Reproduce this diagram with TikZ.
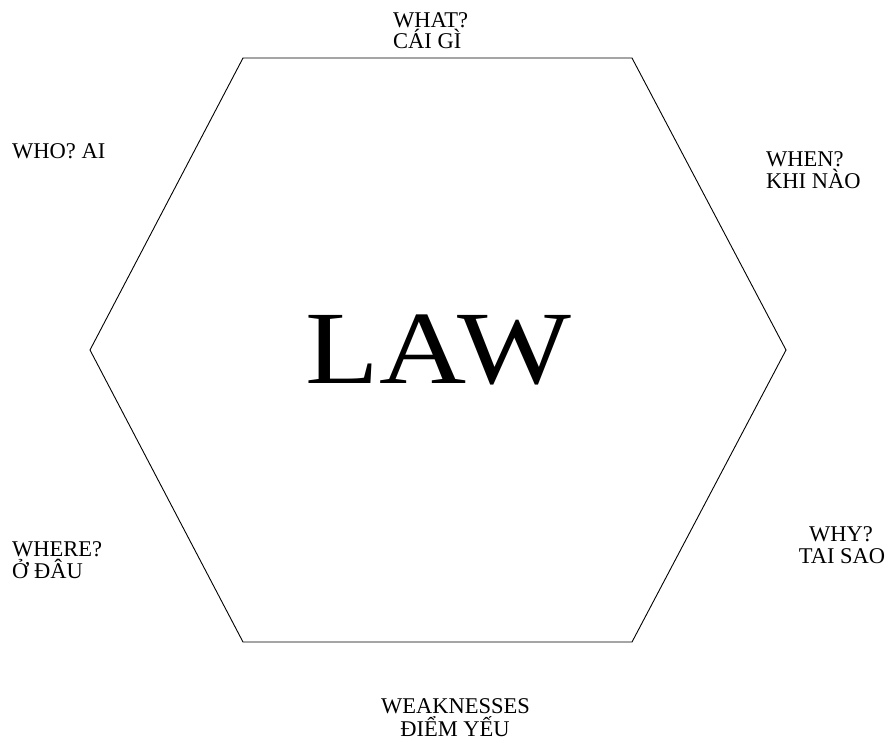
\documentclass[tikz,border=0pt]{standalone}
\usepackage{fontspec}
\setmainfont{Liberation Serif}
\begin{document}
\begin{tikzpicture}[x=1pt,y=-1pt,
  lbl/.style={inner sep=0pt, font=\fontsize{22.5}{22.5}\selectfont},
  hexline/.style={line width=0.9pt, black}]
\useasboundingbox[fill=white] (0,0) rectangle (890,742);
\coordinate (p1) at (243,58);
\coordinate (p2) at (632,58);
\coordinate (p3) at (786,350);
\coordinate (p4) at (632,642);
\coordinate (p5) at (243,642);
\coordinate (p6) at (90,350);
\draw[hexline, line join=miter] (p1) -- (p2) -- (p3) -- (p4) -- (p5) -- (p6) -- cycle;
\node[inner sep=0pt, font=\fontsize{104}{104}\selectfont, xscale=1.16, anchor=base] (law) at (438.5,383) {LAW};
\node[lbl, anchor=base west] (what1) at (393,27) {WHAT?};
\node[lbl, anchor=base west] (what2) at (393,48.5) {CÁI GÌ};
\node[lbl, anchor=base west] (who) at (12,158) {WHO? AI};
\node[lbl, anchor=base west] (when1) at (766,166.5) {WHEN?};
\node[lbl, anchor=base west] (when2) at (766,188) {KHI NÀO};
\node[lbl, anchor=base west] (where1) at (12,556.5) {WHERE?};
\node[lbl, anchor=base west] (where2) at (12,578) {Ở ĐÂU};
\node[lbl, anchor=base] (why1) at (841,541.5) {WHY?};
\node[lbl, anchor=base] (why2) at (842,563) {TAI SAO};
\node[lbl, anchor=base] (weak1) at (455.5,713) {WEAKNESSES};
\node[lbl, anchor=base] (weak2) at (455,736) {ĐIỂM YẾU};
\end{tikzpicture}
\end{document}
